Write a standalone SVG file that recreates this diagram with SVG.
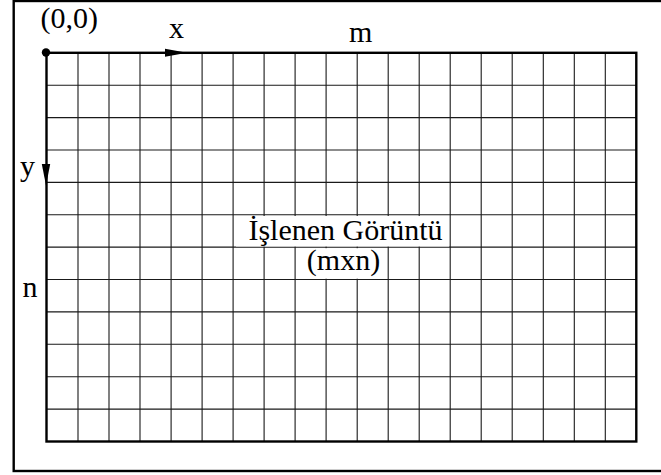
<svg xmlns="http://www.w3.org/2000/svg" width="661" height="475" viewBox="0 0 661 475">
<style>
.t{font-family:"Liberation Serif","Times New Roman",serif;font-size:30px;fill:#000}
.g{stroke:#1a1a1a;stroke-width:1.1;fill:none}
.b{stroke:#000;stroke-width:2.4;fill:none}
</style>
<rect width="661" height="475" fill="#fff"/>
<g id="frame"><rect x="13.7" y="1" width="670" height="470" class="b" stroke-width="2.6"/></g>
<g id="grid">
<path class="g" d="M78,52.8V441.5M109,52.8V441.5M140,52.8V441.5M171.1,52.8V441.5M202.1,52.8V441.5M233.1,52.8V441.5M264.1,52.8V441.5M295.1,52.8V441.5M326.1,52.8V441.5M357.2,52.8V441.5M388.2,52.8V441.5M419.2,52.8V441.5M450.2,52.8V441.5M481.2,52.8V441.5M512.2,52.8V441.5M543.3,52.8V441.5M574.3,52.8V441.5M605.3,52.8V441.5"/>
<path class="g" d="M46.5,85.2H636.3M46.5,117.6H636.3M46.5,150H636.3M46.5,182.4H636.3M46.5,214.8H636.3M46.5,247.1H636.3M46.5,279.5H636.3M46.5,311.9H636.3M46.5,344.3H636.3M46.5,376.7H636.3M46.5,409.1H636.3"/>
<rect x="46.5" y="52.8" width="589.8" height="388.7" class="b"/>
</g>
<g id="origin"><circle cx="46" cy="52.5" r="4.2" fill="#000"/></g>
<g id="connectors">
<polygon points="165,48.8 187,52.8 165,56.8" fill="#000"/>
<polygon points="41.8,164 50.2,164 46,185.5" fill="#000"/>
</g>
<g id="labels">
<text class="t" x="40.5" y="28">(0,0)</text>
<text class="t" x="169" y="37.5">x</text>
<text class="t" x="349" y="41.5">m</text>
<text class="t" x="20" y="176">y</text>
<text class="t" x="22.5" y="297">n</text>
</g>
<g id="center-label">
<rect x="236" y="216" width="213" height="30.5" fill="#fff"/>
<rect x="298" y="248.2" width="88" height="30.5" fill="#fff"/>
<text class="t" x="345.5" y="240" text-anchor="middle">İşlenen Görüntü</text>
<text class="t" x="343.5" y="270" text-anchor="middle">(mxn)</text>
</g>
</svg>
